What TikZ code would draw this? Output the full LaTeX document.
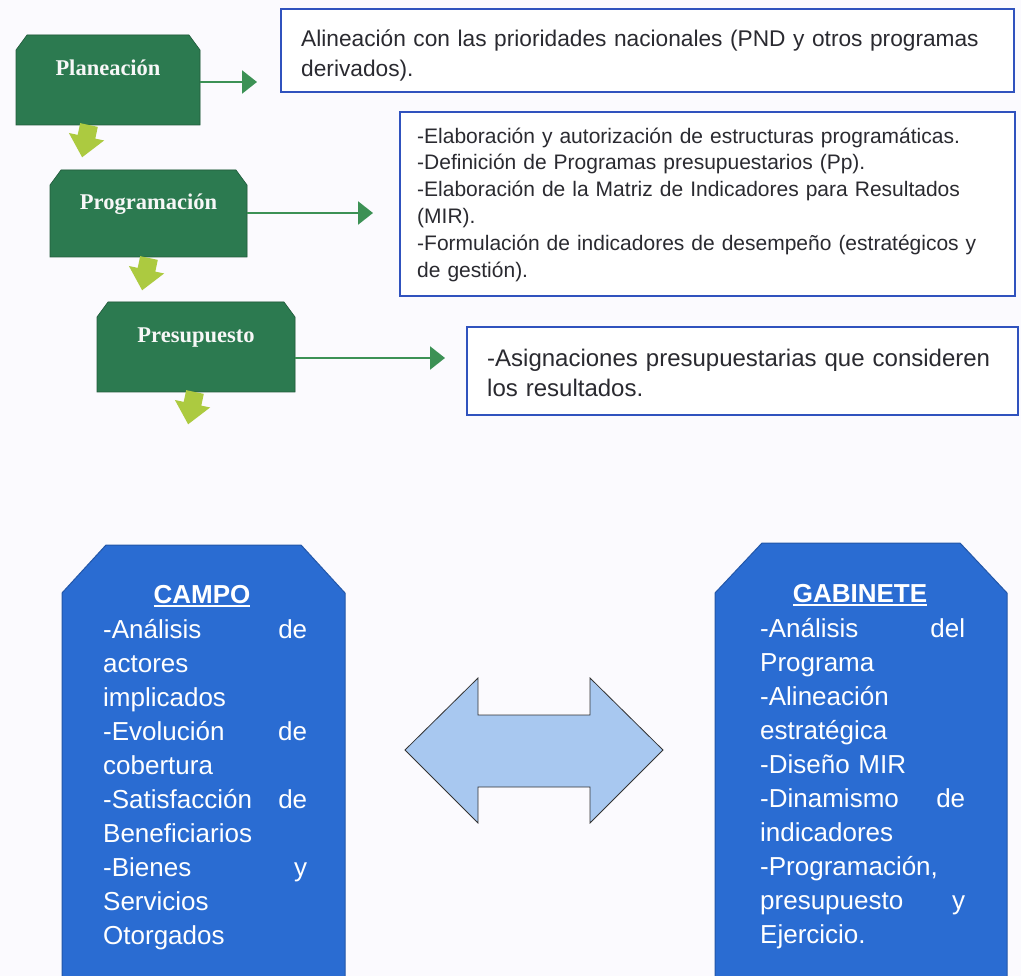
\documentclass[tikz,border=0pt]{standalone}
\usepackage{fontspec}
\setmainfont{Liberation Sans}
\newfontfamily\labelfont{Liberation Serif}
\usetikzlibrary{arrows.meta}
\definecolor{gbox}{RGB}{44,122,80}
\definecolor{garrow}{RGB}{60,145,85}
\definecolor{ygreen}{RGB}{172,202,64}
\definecolor{bbox}{RGB}{42,108,210}
\definecolor{bborder}{RGB}{48,82,190}
\definecolor{txt}{RGB}{42,42,48}
\definecolor{lblue}{RGB}{168,200,240}
\definecolor{bgcol}{RGB}{251,250,254}
\newcommand\myul[1]{\setbox0=\hbox{#1}\rlap{\rule[-3.5pt]{\wd0}{1.8pt}}\box0}
% chamfered outline drawn on an (invisible) named node
\newcommand\chamfer[4]{\path[#4] ([yshift=-#3]#1.north west) -- ([xshift=#2]#1.north west)
  -- ([xshift=-#2]#1.north east) -- ([yshift=-#3]#1.north east)
  -- (#1.south east) -- (#1.south west) -- cycle;}
\begin{document}
\begin{tikzpicture}[x=1pt,y=-1pt,
  boxframe/.style={rectangle, draw=none, fill=none, inner sep=0pt, outer sep=0pt},
  greenfill/.style={fill=gbox, draw=gbox!75!black, line width=0.6pt},
  greenshadow/.style={fill=black, opacity=0.35, xshift=1.5pt, yshift=-2.5pt},
  greenlabel/.style={anchor=base, inner sep=0pt, text=white!94!gray,
    font=\labelfont\bfseries\fontsize{22.5}{27}\selectfont},
  bluefill/.style={fill=bbox, draw=bbox!80!black, line width=1pt},
  bluetitle/.style={anchor=base, inner sep=0pt, text=white,
    font=\bfseries\fontsize{26}{34}\selectfont},
  bluetext/.style={anchor=north west, inner sep=0pt, text=white,
    align=left, font=\fontsize{26}{34}\selectfont},
  infobox/.style={draw=bborder, line width=1.8pt, fill=white, inner sep=0pt},
  infotext/.style={anchor=north west, inner sep=0pt, text=txt, align=left},
  garr/.style={draw=garrow, line width=2.6pt,
    -{Triangle[length=15pt,width=23pt]}, color=garrow},
  downarrow/.style={fill=ygreen, draw=none}
]
\useasboundingbox (0,0) rectangle (1021,976);
\clip (0,0) rectangle (1021,976);
\fill[bgcol] (0,0) rectangle (1021,976);

% ---------- information boxes ----------
\node[infobox, minimum width=733pt, minimum height=83pt] (box1) at (647.5,50.5) {};
\node[infotext, text width=697pt, font=\fontsize{22.7}{30}\selectfont] (t1) at (301,16.7)
  {\rule{0pt}{30pt}\makebox[695pt][s]{Alineación con las prioridades nacionales (PND y otros programas}\\
   derivados).};

\node[infobox, minimum width=615pt, minimum height=184pt] (box2) at (707.5,204) {};
\node[infotext, text width=583pt, font=\fontsize{21}{26.8}\selectfont] (t2) at (417,113)
  {\rule{0pt}{30pt}-Elaboración y autorización de estructuras programáticas.\\
   -Definición de Programas presupuestarios (Pp).\\
   \makebox[583pt][s]{-Elaboración de la Matriz de Indicadores para Resultados}\\
   (MIR).\\
   \makebox[583pt][s]{-Formulación de indicadores de desempeño (estratégicos y}\\
   de gestión).};

\node[infobox, minimum width=551pt, minimum height=88pt] (box3) at (742.5,371) {};
\node[infotext, text width=511pt, font=\fontsize{24}{30}\selectfont] (t3) at (487,336)
  {\rule{0pt}{30pt}\makebox[511pt][s]{-Asignaciones presupuestarias que consideren}\\
   los resultados.};

% ---------- green process boxes ----------
\node[boxframe, minimum width=184pt, minimum height=90pt] (plan) at (108,80) {};
\node[boxframe, minimum width=197pt, minimum height=87pt] (prog) at (148.5,213.5) {};
\node[boxframe, minimum width=198pt, minimum height=90pt] (pres) at (196,347) {};
\foreach \b in {plan,prog,pres}{
  \chamfer{\b}{11pt}{15pt}{greenshadow}
  \chamfer{\b}{11pt}{15pt}{greenfill}
}
\node[greenlabel] (planL) at (108,76) {Planeación};
\node[greenlabel] (progL) at (148.5,210) {Programación};
\node[greenlabel] (presL) at (196,343) {Presupuesto};

% ---------- green connectors ----------
\coordinate (a1) at (257,82);
\coordinate (a2) at (373,213);
\coordinate (a3) at (445,358);
\draw[garr] (plan.east |- a1) -- (a1);
\draw[garr] (prog.east |- a2) -- (a2);
\draw[garr] (pres.east |- a3) -- (a3);

% ---------- yellow-green down arrows ----------
\foreach \cx/\cy in {89/125, 149/258, 195/392}{
  \fill[downarrow, shift={(\cx,\cy)}, rotate=-12]
    (-9,0) -- (9,0) -- (9,12) -- (18,12) -- (0,33) -- (-18,12) -- (-9,12) -- cycle;
}

% ---------- blue boxes ----------
\node[boxframe, minimum width=283pt, minimum height=470pt] (campo) at (203.5,780) {};
\chamfer{campo}{44pt}{48pt}{bluefill}
\node[bluetitle] (campoT) at (202,603) {\myul{CAMPO}};
\node[bluetext, text width=204pt] (campoB) at (103,608)
  {\rule{0pt}{30pt}-Análisis\hfill de\\
   actores\\
   implicados\\
   -Evolución\hfill de\\
   cobertura\\
   -Satisfacción\hfill de\\
   Beneficiarios\\
   -Bienes\hfill y\\
   Servicios\\
   Otorgados};

\node[boxframe, minimum width=292pt, minimum height=470pt] (gab) at (861,778) {};
\chamfer{gab}{47pt}{50pt}{bluefill}
\node[bluetitle] (gabT) at (860,602) {\myul{GABINETE}};
\node[bluetext, text width=205pt] (gabB) at (760,607)
  {\rule{0pt}{30pt}-Análisis\hfill del\\
   Programa\\
   -Alineación\\
   estratégica\\
   -Diseño MIR\\
   -Dinamismo\hfill de\\
   indicadores\\
   -Programación,\\
   presupuesto\hfill y\\
   Ejercicio.};

% ---------- double arrow ----------
\draw[fill=lblue, draw=black!80, line width=0.8pt]
  (405,750) -- (478,678) -- (478,715) -- (590,715) -- (590,678) -- (663,750)
  -- (590,823) -- (590,787) -- (478,787) -- (478,823) -- cycle;
\end{tikzpicture}
\end{document}
